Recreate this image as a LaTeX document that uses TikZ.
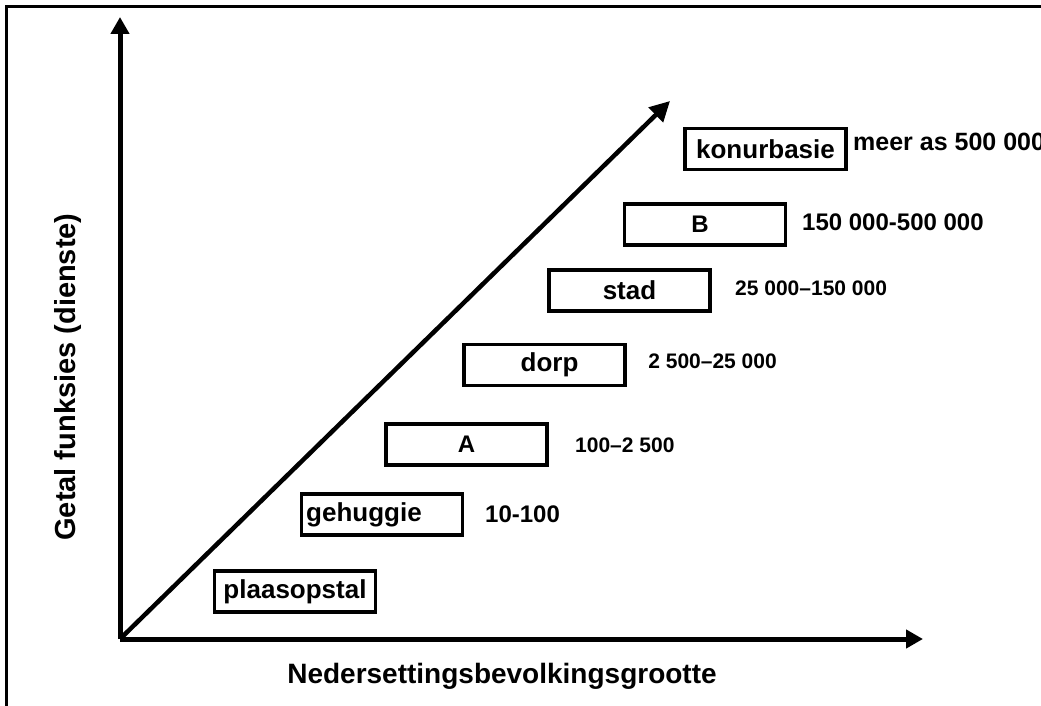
\documentclass[tikz,border=0pt]{standalone}
\usepackage{fontspec}
\setmainfont{Liberation Sans}
\usetikzlibrary{arrows.meta}
\tikzset{
  axis/.style={line width=5pt,-{Triangle[width=18pt,length=17pt]}},
  sizebox/.style={draw,line width=3.5pt,minimum width=161pt,minimum height=41pt,inner sep=0pt,
    font=\fontsize{26}{30}\selectfont\bfseries},
  letterbox/.style={sizebox,font=\fontsize{24}{28}\selectfont\bfseries},
  poplabel/.style={anchor=base west,inner sep=0pt,font=\fontsize{24}{28}\selectfont\bfseries},
  smallpop/.style={poplabel,font=\fontsize{21}{25}\selectfont\bfseries}
}
\begin{document}
\begin{tikzpicture}[x=1pt,y=-1pt]
    \useasboundingbox (0,0) rectangle (1041,706);
    % Frame
    \begin{scope}
        \clip (0,0) rectangle (1041,706);
        \draw[line width=3.5pt] (6.5,760) -- (6.5,6.5) -- (1100,6.5);
    \end{scope}

    % Define points
    \coordinate (O) at (120,639);
    \coordinate (Ytop) at (120,17);
    \coordinate (Xend) at (923,639);
    \coordinate (Dend) at (670,101);

    % Axes and diagonal
    \draw[axis] (O) -- (Ytop);
    \draw[axis] (O) -- (Xend);
    \draw[line width=4.5pt,-{Triangle[width=20pt,length=20pt]}] (O) -- (Dend);

    % Settlement boxes
    \node[sizebox] (plaasopstal) at (295,591.5) {plaasopstal};
    \node[sizebox] (gehuggie) at (382,514.5) {gehuggie\hspace*{36pt}};
    \node[letterbox] (A) at (466.5,444.5) {A};
    \node[sizebox] (dorp) at (544.5,365) {\hspace*{10pt}dorp};
    \node[sizebox] (stad) at (629.5,290.5) {stad};
    \node[letterbox] (B) at (705,224.5) {\hspace*{-10pt}B};
    \node[sizebox] (konurbasie) at (765.5,149) {konurbasie};

    % Population ranges
    \node[poplabel] (r1) at (485,522) {10-100};
    \node[smallpop] (r2) at (575,452) {100--2 500};
    \node[smallpop,anchor=base east] (r3) at (777,368) {2 500--25 000};
    \node[smallpop] (r4) at (735,295) {25 000--150 000};
    \node[poplabel] (r5) at (802,230) {150 000-500 000};
    \node[poplabel,font=\fontsize{25}{29}\selectfont\bfseries] (r6) at (853,150) {meer as 500 000};

    % Axis labels
    \node[rotate=90,font=\fontsize{29}{33}\selectfont\bfseries] (ylabel) at (68,377) {Getal funksies (dienste)};
    \node[anchor=base,inner sep=0pt,font=\fontsize{28}{32}\selectfont\bfseries] (xlabel) at (502,683) {Nedersettingsbevolkingsgrootte};
\end{tikzpicture}
\end{document}
